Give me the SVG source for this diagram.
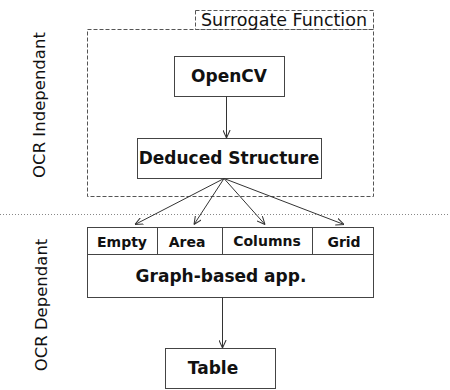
<svg xmlns="http://www.w3.org/2000/svg" width="450" height="390" viewBox="0 0 450 390">
<style>
.box{fill:#fff;stroke:#444;stroke-width:1}
.dash{fill:none;stroke:#555;stroke-width:1;stroke-dasharray:4,2}
.lbl{font-family:"DejaVu Sans",sans-serif;font-weight:bold;font-size:17px;fill:#111;text-anchor:middle}
.cell{font-family:"DejaVu Sans",sans-serif;font-weight:bold;font-size:14px;fill:#111;text-anchor:middle}
.side{font-family:"DejaVu Sans",sans-serif;font-size:16.5px;fill:#111;text-anchor:middle}
.conn{fill:none;stroke:#333;stroke-width:1;marker-end:url(#arr)}
</style>
<defs>
<marker id="arr" viewBox="0 0 10 10" refX="10" refY="5" markerWidth="8" markerHeight="8" markerUnits="userSpaceOnUse" orient="auto">
<path d="M0,0.5 L10,5 L0,9.5" fill="none" stroke="#333" stroke-width="1.3"/>
</marker>
</defs>
<g id="surrogate">
<rect class="dash" x="87.5" y="29.5" width="286" height="167"/>
<rect class="dash" x="195.5" y="10.5" width="178" height="19"/>
<text x="284" y="26" font-family="DejaVu Sans, sans-serif" font-size="17.5" fill="#111" text-anchor="middle">Surrogate Function</text>
</g>
<line x1="0" y1="214.5" x2="450" y2="214.5" stroke="#888" stroke-width="1" stroke-dasharray="1,2"/>
<g id="label-indep"><text class="side" transform="translate(45,105) rotate(-90)">OCR Independant</text></g>
<g id="label-dep"><text class="side" transform="translate(47,305) rotate(-90)">OCR Dependant</text></g>
<g id="opencv">
<rect class="box" x="174.5" y="56.5" width="110" height="40"/>
<text class="lbl" x="229" y="82">OpenCV</text>
</g>
<g id="deduced">
<rect class="box" x="137.5" y="138.5" width="184" height="40"/>
<text class="lbl" x="229" y="164">Deduced Structure</text>
</g>
<g id="empty"><rect class="box" x="87.5" y="227.5" width="70" height="27"/><text class="cell" x="122" y="247">Empty</text></g>
<g id="area"><rect class="box" x="157.5" y="227.5" width="65" height="27"/><text class="cell" x="187" y="247">Area</text></g>
<g id="columns"><rect class="box" x="222.5" y="227.5" width="90" height="27"/><text class="cell" x="267" y="246">Columns</text></g>
<g id="grid"><rect class="box" x="312.5" y="227.5" width="61" height="27"/><text class="cell" x="344" y="247">Grid</text></g>
<g id="graph">
<rect class="box" x="87.5" y="254.5" width="286" height="43"/>
<text class="lbl" x="221" y="282">Graph-based app.</text>
</g>
<g id="table">
<rect class="box" x="165.5" y="348.5" width="110" height="40"/>
<text class="lbl" x="213" y="374">Table</text>
</g>
<g id="connectors">
<line class="conn" x1="226.5" y1="96.5" x2="226.5" y2="138"/>
<line class="conn" x1="224" y1="178.5" x2="135" y2="224.5"/>
<line class="conn" x1="224" y1="178.5" x2="194" y2="224.5"/>
<line class="conn" x1="224" y1="178.5" x2="265" y2="224.5"/>
<line class="conn" x1="224" y1="178.5" x2="344" y2="224.5"/>
<line class="conn" x1="222.5" y1="297.5" x2="222.5" y2="348"/>
</g>
</svg>
